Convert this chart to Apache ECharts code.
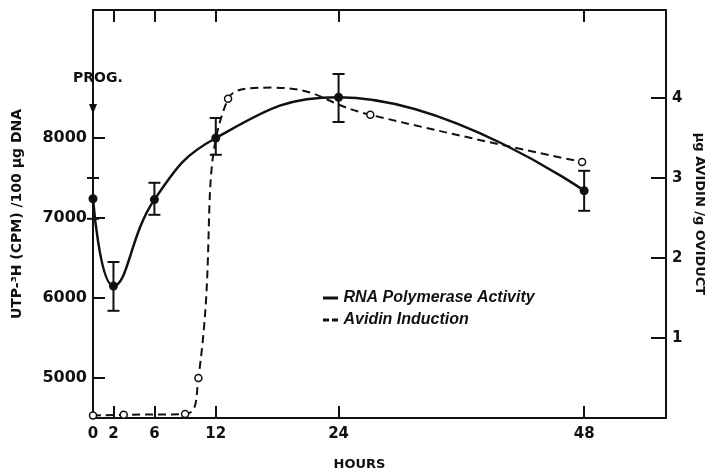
<!DOCTYPE html>
<html>
<head>
<meta charset="utf-8">
<script src="https://cdn.jsdelivr.net/npm/echarts@6/dist/echarts.min.js"></script>
<style>
  html, body { margin: 0; padding: 0; background: #fff; }
  #main { width: 706px; height: 470px; }
</style>
</head>
<body>
<div id="main"></div>
<script>
// RNA polymerase activity (left axis, CPM / 100 ug DNA)
const hours = [0, 2, 6, 12, 24, 48];
const rnaActivity = [7240, 6150, 7230, 8000, 8510, 7340];
const rnaErrLow = [6990, 5840, 7040, 7790, 8200, 7090];
const rnaErrHigh = [7500, 6450, 7440, 8250, 8800, 7590];

// avidin induction (right axis, ug avidin / g oviduct)
// the 17.5 h entry is read off the drawn curve (its crest), it has no marker
const avidinHours = [0, 3, 9, 10.3, 13.2, 17.5, 27.1, 47.8];
const avidin = [0.03, 0.04, 0.05, 0.5, 3.99, 4.13, 3.79, 3.2];
const avidinMeasured = [true, true, true, true, true, false, true, true];

// tick labels
const hourTicks = [0, 2, 6, 12, 24, 48];
const leftTicks = [5000, 6000, 7000, 8000];
const rightTicks = [1, 2, 3, 4];

const ink = '#111';
const font = 'DejaVu Sans';

var chartDom = document.getElementById('main');
var myChart = echarts.init(chartDom);

const rnaData = hours.map((h, i) => [h, rnaActivity[i]]);
const errData = hours.map((h, i) => [h, rnaErrLow[i], rnaErrHigh[i]]);
const avidinData = avidinHours.map((h, i) => (
    avidinMeasured[i] ? [h, avidin[i]] : { value: [h, avidin[i]], symbol: 'none' }
));

const mkLine = () => ({ show: true, onZero: false, lineStyle: { color: ink, width: 2 } });
const mkTick = (vals, len) => ({ show: true, inside: true, length: len, customValues: vals, lineStyle: { color: ink, width: 2 } });
const plain = (v) => String(v);

var option = {
    backgroundColor: '#fff',
    animation: false,
    grid: { left: 93, right: 40, top: 10, bottom: 52, outerBoundsMode: 'none', containLabel: false },
    legend: {
        data: [
            { name: 'RNA Polymerase Activity', icon: 'path://M0,0L10,0L10,2L0,2Z', itemStyle: { color: ink, borderWidth: 0 } },
            { name: 'Avidin Induction', icon: 'path://M0,0L4,0L4,2L0,2Z M6,0L10,0L10,2L6,2Z', itemStyle: { color: ink, borderWidth: 0 } }
        ],
        orient: 'vertical',
        left: 318,
        top: 285,
        itemWidth: 16,
        itemHeight: 3,
        itemGap: 6,
        textStyle: { color: ink, fontFamily: 'Liberation Sans', fontStyle: 'italic', fontWeight: 'bold', fontSize: 16 }
    },
    xAxis: [
        {
            type: 'value', min: 0, max: 56, position: 'bottom',
            name: 'HOURS', nameLocation: 'middle', nameGap: 40,
            nameTextStyle: { color: ink, fontFamily: font, fontWeight: 'bold', fontSize: 13, padding: [0, 40, 0, 0] },
            axisLine: mkLine(),
            axisTick: mkTick(hourTicks, 12),
            axisLabel: { customValues: hourTicks, formatter: plain, color: ink, fontFamily: font, fontWeight: 'bold', fontSize: 15, margin: 9 },
            splitLine: { show: false }
        },
        {
            type: 'value', min: 0, max: 56, position: 'top',
            axisLine: mkLine(),
            axisTick: mkTick(hourTicks.slice(1), 12),
            axisLabel: { show: false },
            splitLine: { show: false }
        }
    ],
    yAxis: [
        {
            type: 'value', min: 4500, max: 9600, position: 'left',
            name: 'UTP-³H (CPM) /100 μg DNA', nameLocation: 'middle', nameGap: 69,
            nameTextStyle: { color: ink, fontFamily: font, fontWeight: 'bold', fontSize: 14 },
            axisLine: mkLine(),
            axisTick: mkTick(leftTicks, 12),
            axisLabel: { customValues: leftTicks, formatter: plain, color: ink, fontFamily: font, fontWeight: 'bold', fontSize: 16, margin: 6 },
            splitLine: { show: false }
        },
        {
            type: 'value', min: 0, max: 5.1, position: 'right',
            name: 'μg AVIDIN /g OVIDUCT', nameLocation: 'middle', nameGap: 23, nameRotate: -90,
            nameTextStyle: { color: ink, fontFamily: font, fontWeight: 'bold', fontSize: 13 },
            axisLine: mkLine(),
            axisTick: mkTick(rightTicks, 15),
            axisLabel: { customValues: rightTicks, formatter: plain, color: ink, fontFamily: font, fontWeight: 'bold', fontSize: 15, margin: 6 },
            splitLine: { show: false }
        }
    ],
    series: [
        {
            name: 'RNA Polymerase Activity',
            type: 'line',
            xAxisIndex: 0, yAxisIndex: 0,
            data: rnaData,
            smooth: 0.45,
            symbol: 'circle', symbolSize: 9,
            itemStyle: { color: ink },
            lineStyle: { color: ink, width: 2.5 },
            z: 3
        },
        {
            name: 'errbars',
            type: 'custom',
            xAxisIndex: 0, yAxisIndex: 0,
            data: errData,
            renderItem: function (params, api) {
                var lo = api.coord([api.value(0), api.value(1)]);
                var hi = api.coord([api.value(0), api.value(2)]);
                var w = 6;
                var st = { stroke: ink, lineWidth: 2 };
                return {
                    type: 'group',
                    children: [
                        { type: 'line', shape: { x1: lo[0], y1: lo[1], x2: hi[0], y2: hi[1] }, style: st },
                        { type: 'line', shape: { x1: lo[0] - w, y1: lo[1], x2: lo[0] + w, y2: lo[1] }, style: st },
                        { type: 'line', shape: { x1: hi[0] - w, y1: hi[1], x2: hi[0] + w, y2: hi[1] }, style: st }
                    ]
                };
            },
            z: 4
        },
        {
            name: 'Avidin Induction',
            type: 'line',
            xAxisIndex: 0, yAxisIndex: 1,
            data: avidinData,
            smooth: 0.5,
            symbol: 'circle', symbolSize: 7,
            itemStyle: { color: '#fff', borderColor: ink, borderWidth: 1.5 },
            lineStyle: { color: ink, width: 2, type: [8, 5] },
            z: 2
        }
    ]
};

option && myChart.setOption(option);

// PROG. arrow at hour 0
var tip = myChart.convertToPixel({ xAxisIndex: 0, yAxisIndex: 0 }, [0, 8300]);
var tail = myChart.convertToPixel({ xAxisIndex: 0, yAxisIndex: 0 }, [0, 8630]);
myChart.setOption({
    graphic: [
        { type: 'text', x: tip[0] - 20, y: tail[1] - 16,
          style: { text: 'PROG.', fill: ink, font: 'bold 14px "DejaVu Sans"' } },
        { type: 'line', shape: { x1: tail[0], y1: tail[1], x2: tip[0], y2: tip[1] - 6 }, style: { stroke: ink, lineWidth: 2 } },
        { type: 'polygon', shape: { points: [[tip[0] - 4, tip[1] - 10], [tip[0] + 4, tip[1] - 10], [tip[0], tip[1]]] }, style: { fill: ink } }
    ]
});
</script>
</body>
</html>
